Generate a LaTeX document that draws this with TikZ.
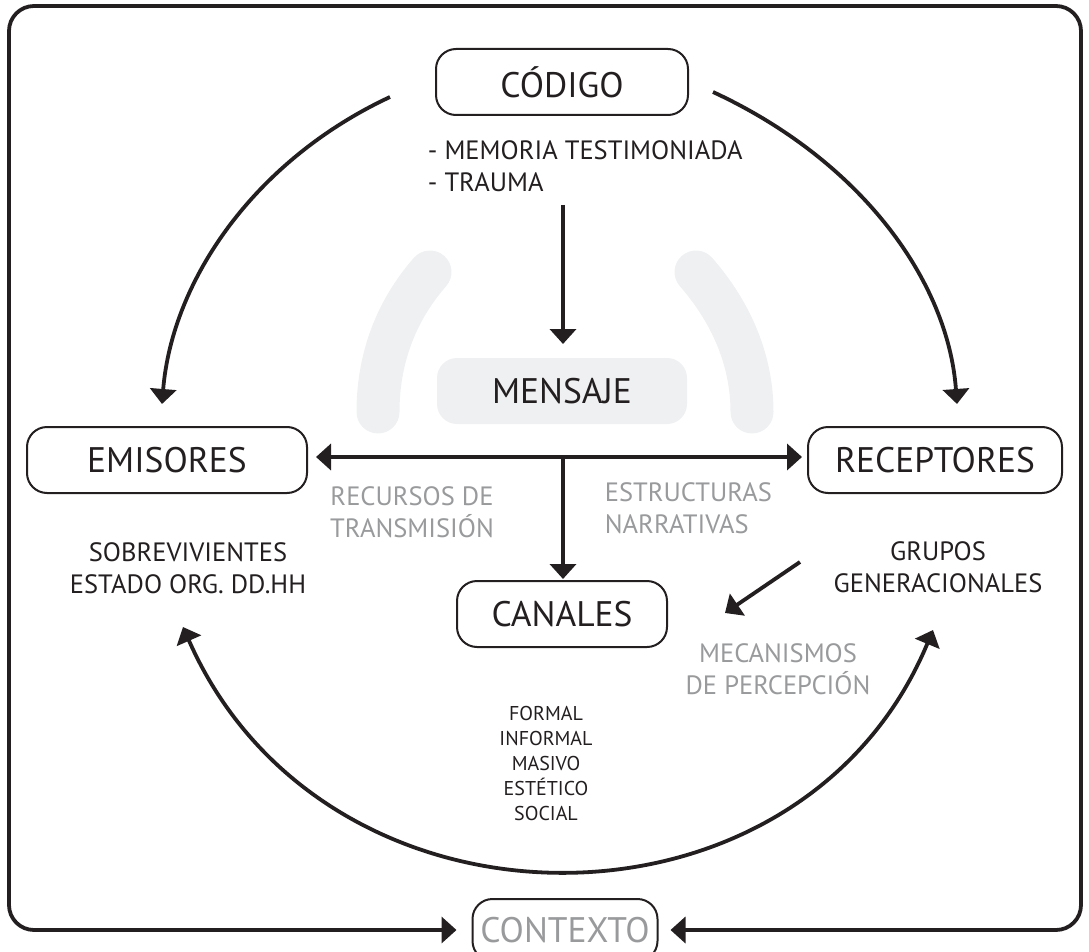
\documentclass[tikz,border=0pt]{standalone}
\usepackage{fontspec}
\setmainfont{PT Sans}
\usetikzlibrary{arrows.meta,positioning}
\definecolor{softgray}{HTML}{EFF0F2}
\definecolor{labelgray}{HTML}{999A9C}
\definecolor{ink}{HTML}{231F20}

\begin{document}
\begin{tikzpicture}[x=1pt,y=-1pt,>={Triangle[length=15pt,width=26pt]},
line width=3.8pt,draw=ink,text=ink]
\tikzstyle{box}=[draw=ink,line width=2pt,rounded corners=20pt,
  minimum height=66pt,font=\fontsize{35.5}{40}\selectfont]
\tikzstyle{txt}=[align=center,inner sep=0pt,font=\fontsize{26.5}{32}\selectfont]
\tikzstyle{dim}=[txt,text=labelgray]
\useasboundingbox (0,0) rectangle (1089,952);

% fondo gris
\draw[softgray,line width=43pt,line cap=round]
  (430,272) .. controls (395,312) and (378,360) .. (378,412);
\draw[softgray,line width=43pt,line cap=round]
  (696,272) .. controls (731,312) and (752,360) .. (752,412);

\node[box,minimum width=252pt] (codigo) at (562,82) {CÓDIGO};
\node[box,minimum width=250pt,fill=softgray,draw=none] (mensaje) at (562,391) {MENSAJE};
\node[box,minimum width=280pt] (emisores) at (167,460) {EMISORES};
\node[box,minimum width=254pt] (receptores) at (935,460) {RECEPTORES};
\node[box,minimum width=210pt] (canales) at (562,614) {CANALES};
\node[box,minimum width=185pt,minimum height=62pt,text=labelgray] (contexto) at (565,930) {CONTEXTO};

\node[txt,align=left,anchor=west] (temas) at (426,166) {- MEMORIA TESTIMONIADA\\- TRAUMA};
\node[dim] (recursos) at (412,512) {RECURSOS DE\\TRANSMISIÓN};
\node[dim,align=left,anchor=west] (estructuras) at (603,508) {ESTRUCTURAS\\NARRATIVAS};
\node[txt] (sobrev) at (188,568) {SOBREVIVIENTES\\ESTADO ORG. DD.HH};
\node[txt] (grupos) at (938,567) {GRUPOS\\GENERACIONALES};
\node[dim] (mecanismos) at (778,669) {MECANISMOS\\DE PERCEPCIÓN};
\node[align=center,inner sep=0pt,font=\fontsize{20}{25}\selectfont] (tipos) at (546,763)
  {FORMAL\\INFORMAL\\MASIVO\\ESTÉTICO\\SOCIAL};

\coordinate (a1) at (390,97);
\coordinate (a2) at (162,404);
\coordinate (b1) at (713,92);
\coordinate (b2) at (957,404);
\coordinate (c1) at (183,627);
\coordinate (c2) at (933,630);
\coordinate (m1) at (563,205);
\coordinate (m2) at (563,344);
\coordinate (h1) at (316,457);
\coordinate (h2) at (802,457);
\coordinate (v1) at (563,457);
\coordinate (v2) at (563,579);
\coordinate (p1) at (800,562);
\coordinate (p2) at (725,613);

\draw[->] (a1) .. controls (255,160) and (172,280) .. (a2);
\draw[->] (b1) .. controls (860,160) and (948,280) .. (b2);
\draw[<->] (c1) .. controls (325,950) and (800,950) .. (c2);
\draw[->] (m1) -- (m2);
\draw[<->] (h1) -- (h2);
\draw[->] (v1) -- (v2);
\draw[->] (p1) -- (p2);

% marco
\draw[<->,rounded corners=25pt] ([xshift=-15pt]contexto.west) -- (9,930) -- (9,6)
  -- (1081,6) -- (1081,930) -- ([xshift=12pt]contexto.east);
\end{tikzpicture}
\end{document}
